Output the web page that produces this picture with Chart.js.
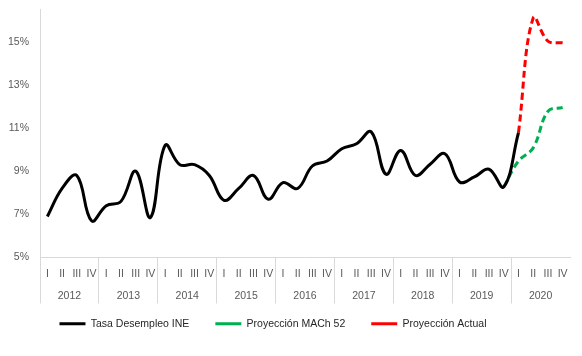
<!DOCTYPE html>
<html>
<head>
<meta charset="utf-8">
<script src="https://cdn.jsdelivr.net/npm/chart.js@4"></script>
<style>
html,body{margin:0;padding:0;background:#fff;}
#wrap{width:582px;height:356px;}
</style>
</head>
<body>
<div id="wrap"><canvas id="c" width="582" height="356"></canvas></div>
<script>
const quarters = ['I','II','III','IV','I','II','III','IV','I','II','III','IV','I','II','III','IV','I','II','III','IV','I','II','III','IV','I','II','III','IV','I','II','III','IV','I','II','III','IV'];
const years = ['2012','2013','2014','2015','2016','2017','2018','2019','2020'];
const tasaINE = [6.9,8.2,8.8,6.7,7.4,7.6,9.0,6.85,10.2,9.3,9.3,8.8,7.65,8.2,8.8,7.7,8.47,8.2,9.24,9.47,10.04,10.27,10.82,8.86,9.96,8.8,9.32,9.81,8.5,8.73,9.09,8.27,10.78,null,null,null];
const proyMACh = [null,null,null,null,null,null,null,null,null,null,null,null,null,null,null,null,null,null,null,null,null,null,null,null,null,null,null,null,null,null,null,8.27,9.47,10.08,11.77,11.95];
const proyActual = [null,null,null,null,null,null,null,null,null,null,null,null,null,null,null,null,null,null,null,null,null,null,null,null,null,null,null,null,null,null,null,null,10.78,16.1,15.03,14.95];
const yTicks = [5,7,9,11,13,15];

const font = {family:"'Liberation Sans', Arial, sans-serif", size:10.5};
const gridColor = '#d9d9d9';
const textColor = '#595959';

const legendShift = {
  id:'legendShift',
  afterLayout(chart){
    const lg = chart.legend;
    if (lg) { lg.left -= 12; lg.right -= 12; lg.top -= 10; lg.bottom -= 10; }
  }
};

new Chart(document.getElementById('c'), {
  type:'line',
  data:{
    labels: quarters,
    datasets:[
      {label:'Tasa Desempleo INE', data:tasaINE, borderColor:'#000000', backgroundColor:'#000000', borderWidth:3, pointRadius:0, tension:0.4, fill:false},
      {label:'Proyección MACh 52', data:proyMACh, borderColor:'#00B050', backgroundColor:'#00B050', borderWidth:3, borderDash:[7,4], pointRadius:0, tension:0.4, fill:false},
      {label:'Proyección Actual', data:proyActual, borderColor:'#FF0000', backgroundColor:'#FF0000', borderWidth:3, borderDash:[7,4], pointRadius:0, tension:0.4, fill:false}
    ]
  },
  plugins:[legendShift],
  options:{
    responsive:false,
    animation:false,
    layout:{padding:{left:0,right:12,top:2,bottom:7}},
    plugins:{
      legend:{
        position:'bottom',
        labels:{usePointStyle:true, pointStyle:'line', pointStyleWidth:26, boxHeight:10, padding:26, color:'#262626', font:{family:font.family, size:10.5}}
      },
      tooltip:{enabled:false}
    },
    scales:{
      x:{
        type:'category',
        position:'bottom',
        offset:true,
        grid:{drawOnChartArea:false, offset:true, tickLength:46, lineWidth:1, color:(ctx)=> (ctx.index % 4 === 0) ? gridColor : 'rgba(0,0,0,0)'},
        border:{display:true, color:gridColor},
        ticks:{color:textColor, font:font, padding:-36, maxRotation:0, autoSkip:false},
        afterFit:(s)=>{s.height = 23;}
      },
      x2:{
        type:'category',
        position:'bottom',
        labels: years,
        offset:true,
        grid:{display:false, drawTicks:false},
        border:{display:false},
        ticks:{color:textColor, font:font, padding:9, maxRotation:0, autoSkip:false},
        afterFit:(s)=>{s.height = 22;}
      },
      y:{
        min:5,
        max:16.5,
        grid:{display:false},
        border:{display:true, color:gridColor},
        ticks:{color:textColor, font:font, padding:3, callback:(v)=> v + '%'},
        afterBuildTicks:(s)=>{s.ticks = yTicks.map(v=>({value:v}));},
        afterFit:(s)=>{s.width = 40;}
      }
    }
  }
});
</script>
</body>
</html>
